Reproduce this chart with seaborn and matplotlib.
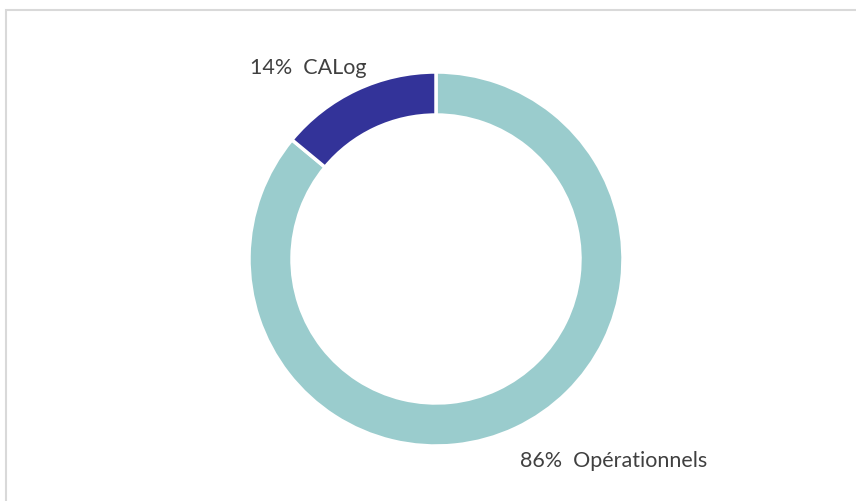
import numpy as np
import matplotlib.pyplot as plt
import seaborn as sns
from matplotlib.patches import Rectangle

categories = ["Opérationnels", "CALog"]
shares = [86, 14]
colors = ["#9ACCCD", "#333399"]

sns.set_theme(style="white")
plt.rcParams['font.family'] = ['Lato', 'DejaVu Sans']

fig = plt.figure(figsize=(8.56, 5.01), dpi=100)
# outer frame of the chart area (cropped at right/bottom)
fig.patches.append(Rectangle((6 / 856, -0.1), 2, 1.1 - 9.5 / 501, transform=fig.transFigure,
                             fill=False, edgecolor="#D9D9D9", linewidth=1.5))

ax = fig.add_axes([249 / 856, 55 / 501, 374 / 856, 374 / 501])
wedges, _ = ax.pie(shares, colors=colors, startangle=90, counterclock=False, radius=1,
                   wedgeprops=dict(width=0.23, edgecolor="white", linewidth=2.5))
ax.set_xlim(-1, 1)
ax.set_ylim(-1, 1)
ax.set_aspect("equal")
ax.axis("off")

label_pos = {"CALog": (-0.995, 1.021), "Opérationnels": (0.449, -1.080)}
for cat, val in zip(categories, shares):
    x, y = label_pos[cat]
    ax.text(x, y, f"{val}%  {cat}", ha="left", va="center", fontsize=15.5,
            color="#404040", clip_on=False)

fig.savefig("out.png", dpi=100)
